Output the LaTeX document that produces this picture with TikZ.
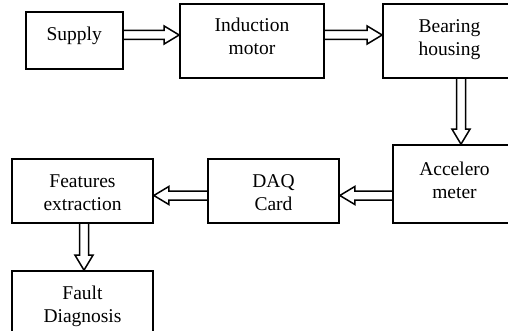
\documentclass[tikz,border=0pt]{standalone}
\usepackage{fontspec}
\setmainfont{Liberation Serif}
\usetikzlibrary{calc}
\tikzset{
  box/.style={draw, line width=1.7pt, inner sep=0pt},
  txt/.style={align=center, inner sep=0pt, font=\fontsize{19.5pt}{23pt}\selectfont},
  blk/.style={draw, line width=1.5pt},
  arrR/.style={to path={let \p1=(\tikztostart), \p2=(\tikztotarget) in
    (\x1,\y1+4.5pt) -- (\x2-15pt,\y1+4.5pt) -- (\x2-15pt,\y1+9pt) -- (\x2,\y1)
    -- (\x2-15pt,\y1-9pt) -- (\x2-15pt,\y1-4.5pt) -- (\x1,\y1-4.5pt)}},
  arrL/.style={to path={let \p1=(\tikztostart), \p2=(\tikztotarget) in
    (\x1,\y1+4.5pt) -- (\x2+15pt,\y1+4.5pt) -- (\x2+15pt,\y1+9pt) -- (\x2,\y1)
    -- (\x2+15pt,\y1-9pt) -- (\x2+15pt,\y1-4.5pt) -- (\x1,\y1-4.5pt)}},
  arrD/.style={to path={let \p1=(\tikztostart), \p2=(\tikztotarget) in
    (\x1-4.5pt,\y1) -- (\x1-4.5pt,\y2+15pt) -- (\x1-9pt,\y2+15pt) -- (\x1,\y2)
    -- (\x1+9pt,\y2+15pt) -- (\x1+4.5pt,\y2+15pt) -- (\x1+4.5pt,\y1)}}
}
\begin{document}
\begin{tikzpicture}[x=1pt,y=-1pt]
\useasboundingbox (0,0) rectangle (508,331);
\clip (0,0) rectangle (508,331);
% boxes
\node[box, minimum width=97pt, minimum height=57pt] (sup) at (74.5,40.5) {};
\node[box, minimum width=144pt, minimum height=74pt] (ind) at (252,41) {};
\node[box, minimum width=133pt, minimum height=74pt] (bear) at (449.5,41) {};
\node[box, minimum width=123pt, minimum height=78pt] (acc) at (454.5,184) {};
\node[box, minimum width=131pt, minimum height=64pt] (daq) at (273.5,191) {};
\node[box, minimum width=141pt, minimum height=64pt] (feat) at (82.5,191) {};
\node[box, minimum width=141pt, minimum height=78pt] (fault) at (82.5,310) {};
% texts
\node[txt] (supT) at (74.2,35.5) {Supply};
\node[txt] (indT) at (252,36.5) {Induction\\motor};
\node[txt] (bearT) at (449.5,39.6) {Bearing\\housing};
\node[txt] (accT) at (454.5,180) {Accelero\\meter};
\node[txt] (daqT) at (273.5,193) {DAQ\\Card};
\node[txt] (featT) at (82.5,192.5) {Features\\extraction};
\node[txt] (faultT) at (82.5,306) {Fault\\Diagnosis};
% connectors
\coordinate (c1) at ($(sup.east)+(0,-5.5)$);
\draw[blk, arrR] (c1) to (c1 -| ind.west);
\coordinate (c2) at (ind.east |- c1);
\draw[blk, arrR] (c2) to (c2 -| bear.west);
\coordinate (c3) at ($(bear.south)+(11.5,0)$);
\draw[blk, arrD] (c3) to (c3 |- acc.north);
\coordinate (c4) at ($(acc.west)+(0,11.5)$);
\draw[blk, arrL] (c4) to (c4 -| daq.east);
\coordinate (c5) at (daq.west |- c4);
\draw[blk, arrL] (c5) to (c5 -| feat.east);
\coordinate (c6) at ($(feat.south)+(1.5,0)$);
\draw[blk, arrD] (c6) to (c6 |- fault.north);
\end{tikzpicture}
\end{document}
